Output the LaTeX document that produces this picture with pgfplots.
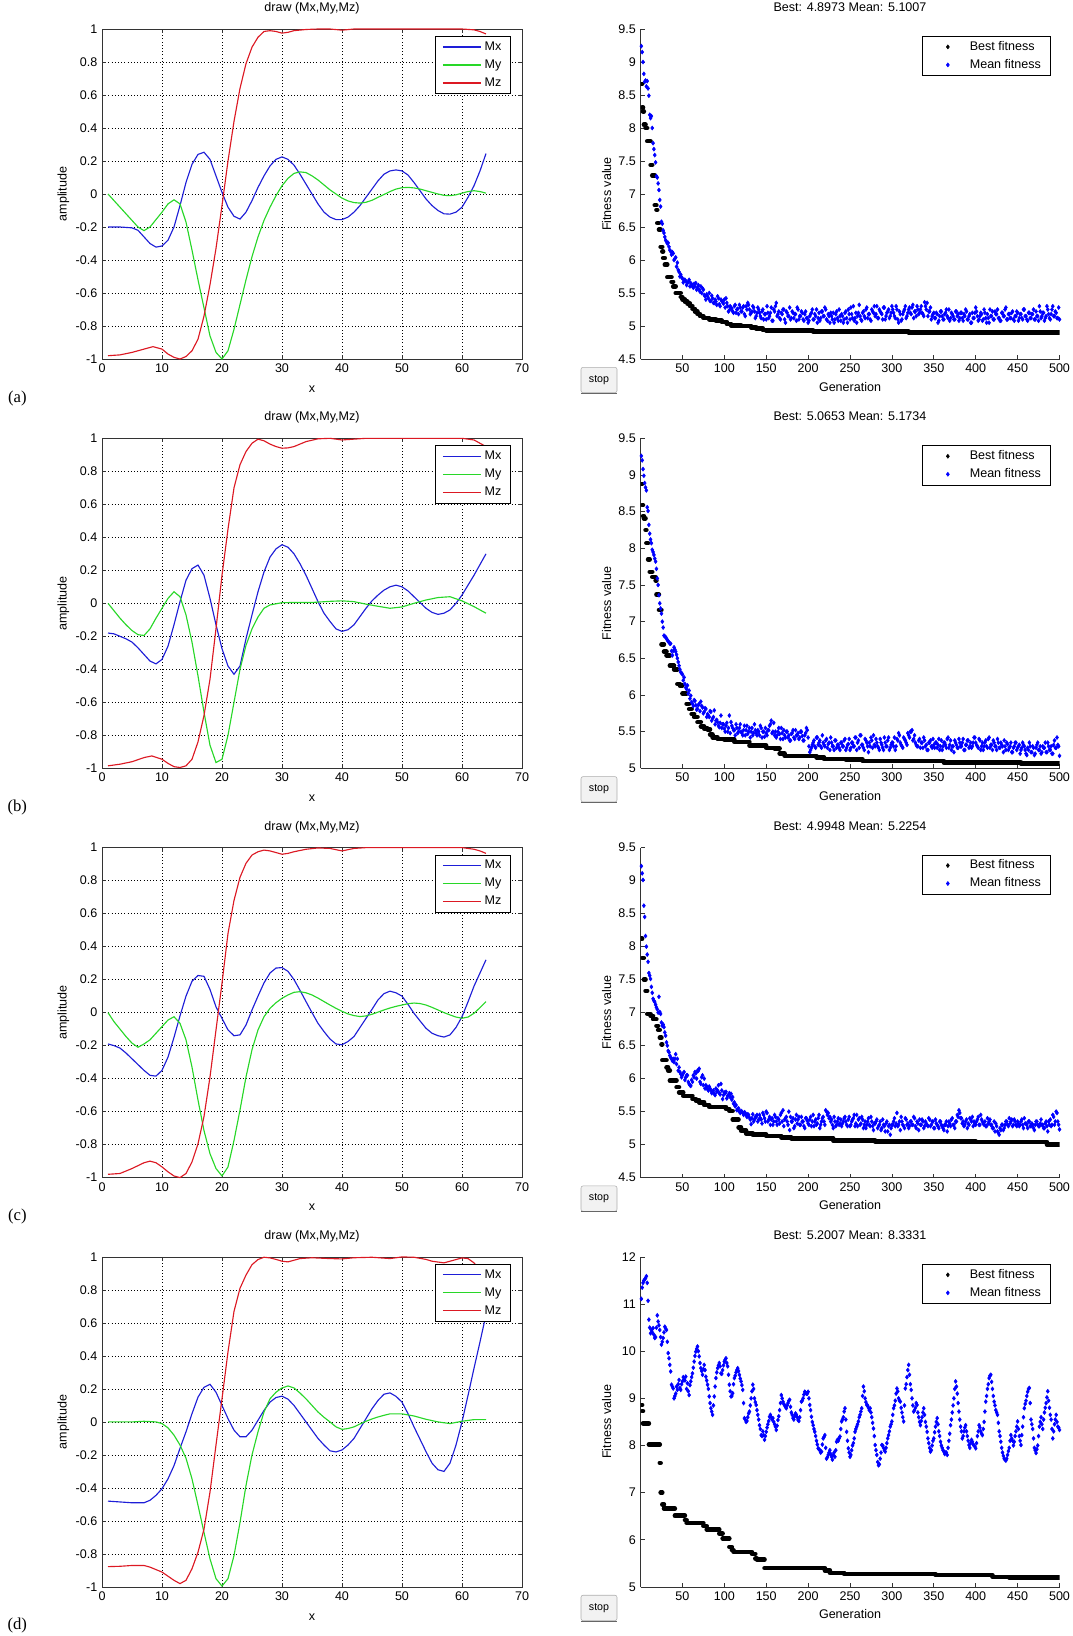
\documentclass[border=0pt]{standalone}
\usepackage{fontspec}
\setmainfont{Liberation Sans}
\newfontfamily\timesf{Liberation Serif}
\usepackage{pgfplots}
\pgfplotsset{compat=1.18}
\definecolor{mx}{RGB}{30,30,215}
\definecolor{my}{RGB}{40,215,40}
\definecolor{mz}{RGB}{220,25,35}
\definecolor{mb}{RGB}{0,0,255}
\pgfplotsset{
  mbase/.style={scale only axis,
    every tick label/.append style={font=\fontsize{9.4}{11}\selectfont},
    label style={font=\fontsize{9.4}{11}\selectfont},
    title style={font=\fontsize{9.4}{11}\selectfont, at={(0.5,1)}, anchor=base, yshift=7pt},
    /pgf/number format/assume math mode=true,
    axis line style={line width=0.6pt, black!80},
    tick style={line width=0.5pt, black!80},
    tick align=inside, major tick length=3pt,
    legend style={font=\fontsize{9.4}{11}\selectfont, draw=black,
      inner xsep=5pt, inner ysep=3pt,
      nodes={inner xsep=2pt, inner ysep=0pt, text height=7.5pt, text depth=2.5pt},
      row sep=3.5pt, at={(1,1)}, anchor=north east},
    legend cell align=left,
  },
  lax/.style={mbase, width=315pt, height=247.5pt,
    xmin=0, xmax=70, ymin=-1, ymax=1,
    xtick={0,10,...,70}, ytick={-1,-0.8,-0.6,-0.4,-0.2,0,0.2,0.4,0.6,0.8,1},
    grid=major, major grid style={dotted, black, line width=0.5pt},
    clip=false, title={draw (Mx,My,Mz)}, xlabel={x}, ylabel={amplitude},
    xlabel style={at={(0.5,0)}, anchor=base, yshift=-25pt},
    ylabel style={at={(-0.092,0.5)}, anchor=center},
    legend style={xshift=-8.25pt, yshift=-5.25pt}},
  rax/.style={mbase, width=314.25pt, height=247.5pt,
    xmin=0, xmax=500, xtick={50,100,...,500},
    axis x line*=bottom, axis y line*=left,
    xlabel={Generation}, ylabel={Fitness value},
    xlabel style={at={(0.5,0)}, anchor=base, yshift=-24pt},
    ylabel style={at={(-0.081,0.5)}, anchor=center},
    legend style={xshift=-6.75pt, yshift=-5.25pt}},
  lmx/.style={color=mx, line width=0.85pt, forget plot},
  lmy/.style={color=my, line width=0.85pt, forget plot},
  lmz/.style={color=mz, line width=0.85pt, forget plot},
  bestst/.style={jump mark left, black, line width=3.4pt, line cap=round, mark=none, forget plot},
  meanst/.style={only marks, mark=diamond*, mark size=1.5pt, color=mb, forget plot},
}
\newcommand{\leglines}{%
  \addlegendimage{legend image code/.code={\draw[mx, line width=0.9pt] (0pt,0pt) -- (29pt,0pt);}}
  \addlegendentry{Mx}
  \addlegendimage{legend image code/.code={\draw[my, line width=0.9pt] (0pt,0pt) -- (29pt,0pt);}}
  \addlegendentry{My}
  \addlegendimage{legend image code/.code={\draw[mz, line width=0.9pt] (0pt,0pt) -- (29pt,0pt);}}
  \addlegendentry{Mz}}
\newcommand{\legmarks}{%
  \addlegendimage{legend image code/.code={\path[draw=none] (0pt,0pt) -- (29pt,0pt); \path[draw=black, fill=black] plot[mark=diamond*, mark size=1.5pt, only marks] coordinates {(14.5pt,0pt)};}}
  \addlegendentry{Best fitness}
  \addlegendimage{legend image code/.code={\path[draw=none] (0pt,0pt) -- (29pt,0pt); \path[draw=mb, fill=mb] plot[mark=diamond*, mark size=1.5pt, only marks] coordinates {(14.5pt,0pt)};}}
  \addlegendentry{Mean fitness}}
\newcommand{\stopbtn}[1]{%
  \node[draw=gray!65, fill=gray!10, rounded corners=1.5pt, minimum width=27pt, minimum height=19pt,
    inner sep=0pt, font=\fontsize{8}{9}\selectfont] at (449.25pt,-#1) {stop};
  \draw[gray!80!black, line width=0.8pt] (436pt,-#1+ -10pt) -- (462.5pt,-#1+ -10pt);}
\begin{document}
\begin{tikzpicture}
\useasboundingbox (0,0) rectangle (804.75pt,-1227pt);
% ================= ROW A =================
\begin{axis}[lax, at={(76.5pt,-21.75pt)}, anchor=north west]
\addplot[lmx] coordinates {(1,-0.20)(3,-0.20)(5,-0.205)(6,-0.22)(7,-0.26)(8,-0.30)(9,-0.322)(10,-0.315)(11,-0.28)(12,-0.20)(13,-0.07)(14,0.07)(15,0.18)(16,0.24)(17,0.253)(18,0.21)(19,0.11)(20,0.01)(21,-0.08)(22,-0.135)(23,-0.152)(24,-0.11)(25,-0.04)(26,0.04)(27,0.11)(28,0.17)(29,0.21)(30,0.225)(31,0.21)(32,0.175)(33,0.12)(34,0.06)(35,0.0)(36,-0.06)(37,-0.11)(38,-0.14)(39,-0.155)(40,-0.155)(41,-0.14)(42,-0.11)(43,-0.07)(44,-0.02)(45,0.03)(46,0.08)(47,0.12)(48,0.14)(49,0.146)(50,0.14)(51,0.115)(52,0.07)(53,0.02)(54,-0.03)(55,-0.07)(56,-0.10)(57,-0.12)(58,-0.122)(59,-0.11)(60,-0.08)(61,-0.02)(62,0.05)(63,0.14)(64,0.245)};
\addplot[lmy] coordinates {(1,0)(2,-0.04)(3,-0.08)(4,-0.12)(5,-0.16)(6,-0.20)(7,-0.222)(8,-0.20)(9,-0.155)(10,-0.11)(11,-0.06)(12,-0.035)(13,-0.06)(14,-0.17)(15,-0.34)(16,-0.52)(17,-0.69)(18,-0.86)(19,-0.96)(20,-1.0)(21,-0.95)(22,-0.82)(23,-0.67)(24,-0.52)(25,-0.38)(26,-0.26)(27,-0.16)(28,-0.08)(29,-0.01)(30,0.05)(31,0.095)(32,0.125)(33,0.134)(34,0.13)(35,0.11)(36,0.085)(37,0.055)(38,0.025)(39,0.0)(40,-0.025)(41,-0.042)(42,-0.052)(43,-0.055)(44,-0.05)(45,-0.038)(46,-0.02)(47,-0.003)(48,0.015)(49,0.03)(50,0.038)(51,0.04)(52,0.037)(53,0.03)(54,0.02)(55,0.01)(56,0.0)(57,-0.008)(58,-0.01)(59,-0.005)(60,0.005)(61,0.015)(62,0.02)(63,0.015)(64,0.005)};
\addplot[lmz] coordinates {(1,-0.98)(3,-0.975)(5,-0.96)(7,-0.94)(8.5,-0.925)(10,-0.94)(11,-0.97)(12,-0.99)(13,-1.0)(14,-0.985)(15,-0.95)(16,-0.88)(17,-0.74)(18,-0.55)(19,-0.33)(20,-0.07)(21,0.2)(22,0.44)(23,0.64)(24,0.79)(25,0.89)(26,0.95)(27,0.985)(28,0.99)(29,0.985)(30,0.975)(31,0.98)(32,0.99)(34,0.997)(36,1.0)(38,1.0)(40,0.993)(42,1.0)(45,1.0)(50,1.0)(55,1.0)(60,1.0)(62,0.995)(63,0.985)(64,0.97)};
\leglines
\end{axis}
\begin{axis}[rax, at={(480.38pt,-21.75pt)}, anchor=north west, ymin=4.5, ymax=9.5,
  ytick={4.5,5,5.5,6,6.5,7,7.5,8,8.5,9,9.5}, title={Best: 4.8973 Mean: 5.1007}]
\legmarks
\addplot[bestst] coordinates {(1,8.67)(2,8.31)(3,8.25)(4,8.05)(6,8.0)(8,7.8)(12,7.44)(14,7.28)(17,6.83)(19,6.76)(20,6.56)(22,6.46)(24,6.2)(26,6.13)(27,6.03)(29,5.93)(32,5.74)(37,5.67)(39,5.6)(42,5.5)(48,5.44)(50,5.4)(53,5.37)(56,5.34)(59,5.3)(62,5.26)(65,5.22)(68,5.18)(71,5.15)(75,5.12)(82,5.1)(90,5.08)(97,5.06)(103,5.03)(108,5.01)(120,5.0)(132,4.98)(138,4.96)(146,4.94)(150,4.93)(206,4.915)(320,4.9)(500,4.9)};
\addplot[meanst] coordinates {(1,9.24)(2,9.15)(3,9.0)(4,8.82)(5,8.7)(6,8.72)(7,8.63)(8,8.71)(9,8.6)(10,8.49)(11,8.2)(12,8.15)(13,8.18)(14,8.0)(15,7.77)(16,7.68)(17,7.59)(18,7.48)(19,7.27)(20,7.25)(21,7.16)(22,7.06)(23,6.91)(24,6.81)(25,6.58)(26,6.55)(27,6.45)(28,6.41)(29,6.35)(30,6.3)(31,6.28)(32,6.25)(33,6.26)(34,6.2)(35,6.15)(36,6.13)(37,6.08)(38,6.12)(39,6.1)(40,6.0)};
\addplot[meanst] table[row sep=\\, header=false, x expr=42+2*\coordindex, y index=0] {6.04\\5.96\\5.82\\5.78\\5.72\\5.7\\5.68\\5.65\\5.7\\5.65\\
5.6\\5.64\\5.65\\5.58\\5.55\\5.6\\5.57\\5.47\\5.4\\5.45\\5.5\\5.38\\5.42\\5.35\\5.37\\5.45\\5.33\\5.4\\5.36\\5.4\\
5.42\\5.3\\5.24\\5.28\\5.22\\5.3\\5.2\\5.26\\5.32\\5.22\\5.28\\5.18\\5.3\\5.35\\5.25\\5.2\\5.3\\5.22\\5.15\\5.28\\5.2\\5.12\\5.25\\5.18\\5.1\\
5.2\\5.15\\5.28\\5.08\\5.22\\5.35\\5.18\\5.12\\5.2\\5.25\\5.1\\5.22\\5.15\\5.28\\5.12\\5.2\\5.18\\5.08\\5.25\\5.15\\5.22\\5.1\\5.18\\5.12\\5.05\\
5.15\\5.2\\5.1\\5.18\\5.25\\5.12\\5.08\\5.22\\5.15\\5.28\\5.1\\5.18\\5.05\\5.15\\5.2\\5.1\\5.22\\5.08\\5.15\\5.18\\5.05\\5.2\\5.12\\5.25\\5.1\\
5.18\\5.3\\5.12\\5.05\\5.2\\5.15\\5.08\\5.22\\5.12\\5.28\\5.18\\5.1\\5.25\\5.2\\5.15\\5.3\\5.12\\5.22\\5.18\\5.28\\5.1\\5.2\\5.25\\5.15\\5.3\\
5.2\\5.12\\5.25\\5.05\\5.18\\5.1\\5.22\\5.3\\5.15\\5.25\\5.2\\5.28\\5.12\\5.22\\5.3\\5.18\\5.25\\5.2\\5.15\\5.3\\5.35\\5.22\\5.28\\5.15\\5.2\\
5.12\\5.18\\5.08\\5.22\\5.15\\5.1\\5.2\\5.15\\5.25\\5.12\\5.18\\5.1\\5.22\\5.15\\5.08\\5.2\\5.12\\5.18\\5.25\\5.1\\5.15\\5.05\\5.2\\5.12\\5.28\\
5.15\\5.1\\5.2\\5.08\\5.25\\5.12\\5.18\\5.05\\5.15\\5.22\\5.1\\5.18\\5.25\\5.12\\5.08\\5.2\\5.15\\5.28\\5.1\\5.18\\5.12\\5.22\\5.08\\5.15\\5.2\\
5.12\\5.18\\5.1\\5.25\\5.15\\5.08\\5.2\\5.12\\5.18\\5.1\\5.22\\5.15\\5.3\\5.12\\5.2\\5.08\\5.15\\5.25\\5.12\\5.18\\5.3\\5.15\\5.2\\5.12\\5.1\\};
\addplot[meanst] table[row sep=\\, header=false, x expr=41+2*\coordindex, y index=0] {6.02\\5.9\\5.85\\5.75\\5.74\\5.66\\5.7\\5.62\\5.67\\5.6\\
5.63\\5.58\\5.6\\5.55\\5.62\\5.52\\5.5\\5.55\\5.45\\5.48\\
5.42\\5.38\\5.46\\5.35\\5.4\\5.32\\5.42\\5.3\\5.38\\5.34\\
5.28\\5.35\\5.22\\5.3\\5.26\\5.2\\5.32\\5.25\\5.18\\5.28\\
5.22\\5.3\\5.15\\5.25\\5.32\\5.18\\5.22\\5.28\\5.12\\5.2\\
5.25\\5.15\\5.22\\5.1\\5.18\\5.3\\5.12\\5.2\\5.08\\5.25\\
5.3\\5.15\\5.22\\5.1\\5.18\\5.25\\5.05\\5.2\\5.15\\5.1\\
5.22\\5.12\\5.18\\5.28\\5.1\\5.15\\5.2\\5.08\\5.22\\5.12\\
5.08\\5.18\\5.25\\5.1\\5.15\\5.05\\5.2\\5.12\\5.22\\5.15\\
5.25\\5.08\\5.15\\5.2\\5.1\\5.05\\5.18\\5.12\\5.25\\5.08\\
5.15\\5.1\\5.22\\5.05\\5.18\\5.28\\5.12\\5.08\\5.2\\5.15\\
5.32\\5.1\\5.2\\5.15\\5.25\\5.12\\5.18\\5.08\\5.22\\5.3\\
5.18\\5.12\\5.25\\5.2\\5.1\\5.28\\5.15\\5.22\\5.12\\5.2\\
5.25\\5.15\\5.3\\5.1\\5.22\\5.08\\5.18\\5.25\\5.12\\5.2\\
5.28\\5.18\\5.32\\5.22\\5.15\\5.25\\5.2\\5.3\\5.18\\5.36\\
5.25\\5.15\\5.22\\5.1\\5.18\\5.12\\5.2\\5.05\\5.15\\5.22\\
5.1\\5.18\\5.25\\5.12\\5.08\\5.2\\5.15\\5.1\\5.22\\5.18\\
5.12\\5.2\\5.08\\5.15\\5.22\\5.1\\5.18\\5.05\\5.12\\5.2\\
5.22\\5.08\\5.15\\5.18\\5.1\\5.2\\5.05\\5.12\\5.25\\5.15\\
5.1\\5.22\\5.18\\5.12\\5.08\\5.2\\5.15\\5.25\\5.1\\5.18\\
5.12\\5.2\\5.1\\5.15\\5.22\\5.08\\5.18\\5.12\\5.25\\5.15\\
5.1\\5.2\\5.12\\5.18\\5.25\\5.1\\5.15\\5.08\\5.22\\5.15\\
5.2\\5.12\\5.3\\5.18\\5.1\\5.25\\5.15\\5.22\\5.12\\5.28\\};
\end{axis}
% ================= ROW B =================
\begin{axis}[lax, at={(76.5pt,-328.73pt)}, anchor=north west]
\addplot[lmx] coordinates {(1,-0.18)(2,-0.185)(3,-0.20)(4,-0.215)(5,-0.235)(6,-0.27)(7,-0.31)(8,-0.35)(9,-0.367)(10,-0.34)(11,-0.26)(12,-0.13)(13,0.01)(14,0.14)(15,0.21)(16,0.232)(17,0.17)(18,0.03)(19,-0.13)(20,-0.275)(21,-0.38)(22,-0.43)(23,-0.38)(24,-0.215)(25,-0.07)(26,0.07)(27,0.19)(28,0.28)(29,0.33)(30,0.355)(31,0.34)(32,0.30)(33,0.24)(34,0.17)(35,0.09)(36,0.01)(37,-0.06)(38,-0.11)(39,-0.155)(40,-0.17)(41,-0.16)(42,-0.13)(43,-0.08)(44,-0.03)(45,0.015)(46,0.05)(47,0.08)(48,0.1)(49,0.11)(50,0.1)(51,0.075)(52,0.04)(53,0.005)(54,-0.03)(55,-0.055)(56,-0.067)(57,-0.06)(58,-0.04)(59,0.0)(60,0.05)(61,0.11)(62,0.17)(63,0.235)(64,0.30)};
\addplot[lmy] coordinates {(1,0)(2,-0.045)(3,-0.09)(4,-0.13)(5,-0.165)(6,-0.19)(7,-0.195)(8,-0.155)(9,-0.09)(10,-0.03)(11,0.03)(12,0.07)(13,0.04)(14,-0.07)(15,-0.235)(16,-0.44)(17,-0.66)(18,-0.86)(19,-0.965)(20,-0.945)(21,-0.80)(22,-0.60)(23,-0.40)(24,-0.255)(25,-0.155)(26,-0.083)(27,-0.03)(28,-0.01)(30,0.004)(32,0.005)(35,0.005)(38,0.012)(40,0.015)(42,0.01)(44,-0.005)(46,-0.018)(48,-0.03)(50,-0.022)(52,0.0)(54,0.02)(56,0.035)(58,0.04)(60,0.015)(62,-0.02)(64,-0.06)};
\addplot[lmz] coordinates {(1,-0.985)(3,-0.975)(5,-0.96)(7,-0.935)(8.3,-0.925)(10,-0.945)(11,-0.97)(12,-0.99)(13,-0.995)(14,-0.985)(15,-0.945)(16,-0.84)(17,-0.68)(18,-0.46)(19,-0.154)(20,0.17)(21,0.45)(22,0.70)(23,0.84)(24,0.92)(25,0.97)(26,0.995)(27,0.985)(28,0.965)(29,0.95)(30,0.94)(31,0.942)(32,0.95)(33,0.965)(34,0.98)(36,0.997)(38,1.0)(40,0.99)(42,0.995)(44,1.0)(50,1.0)(55,1.0)(60,1.0)(61,0.995)(62,0.99)(63,0.97)(64,0.95)};
\leglines
\end{axis}
\begin{axis}[rax, at={(480.38pt,-328.73pt)}, anchor=north west, ymin=5, ymax=9.5,
  ytick={5,5.5,6,6.5,7,7.5,8,8.5,9,9.5}, title={Best: 5.0653 Mean: 5.1734}]
\legmarks
\addplot[bestst] coordinates {(1,8.88)(2,8.59)(3,8.44)(4,8.41)(6,8.25)(7,8.07)(9,7.85)(11,7.68)(14,7.61)(18,7.56)(19,7.37)(22,7.16)(25,6.69)(28,6.59)(31,6.54)(35,6.4)(40,6.35)(44,6.15)(47,6.13)(50,6.02)(55,5.88)(58,5.81)(61,5.74)(64,5.7)(68,5.63)(72,5.57)(76,5.54)(80,5.53)(83,5.46)(86,5.42)(92,5.4)(100,5.39)(112,5.36)(130,5.31)(150,5.28)(160,5.27)(166,5.2)(172,5.17)(210,5.15)(219,5.13)(245,5.12)(265,5.1)(362,5.08)(454,5.065)(500,5.065)};
\addplot[meanst] coordinates {(1,9.26)(2,9.2)(3,9.08)(4,8.99)(5,8.89)(6,8.83)(7,8.79)(8,8.56)(9,8.51)(10,8.32)(11,8.2)(12,8.12)(13,8.07)(14,7.98)(15,7.95)(16,7.91)(17,7.86)(18,7.82)(19,7.72)(20,7.59)(21,7.5)(22,7.36)(23,7.25)(24,7.18)(25,7.11)(26,7.0)(27,6.92)(28,6.81)(29,6.8)(30,6.79)(31,6.77)(32,6.75)(33,6.73)(34,6.72)(35,6.7)(36,6.7)(37,6.6)(38,6.54)(39,6.6)(40,6.65)};
\addplot[meanst] table[row sep=\\, header=false, x expr=42+2*\coordindex, y index=0] {6.59\\6.5\\6.4\\6.31\\6.28\\6.24\\6.1\\6.13\\6.06\\5.99\\
5.88\\5.93\\5.86\\5.81\\5.88\\5.91\\5.83\\5.77\\5.81\\5.74\\5.7\\5.77\\5.68\\5.79\\5.65\\5.63\\5.56\\5.72\\5.6\\5.54\\
5.58\\5.5\\5.72\\5.63\\5.55\\5.52\\5.6\\5.48\\5.55\\5.5\\5.45\\5.58\\5.52\\5.47\\5.55\\5.5\\5.45\\5.6\\5.48\\5.52\\5.45\\5.55\\5.5\\5.43\\5.48\\
5.52\\5.58\\5.65\\5.5\\5.45\\5.42\\5.5\\5.47\\5.55\\5.4\\5.45\\5.5\\5.42\\5.38\\5.47\\5.52\\5.4\\5.45\\5.48\\5.42\\5.5\\5.38\\5.45\\5.55\\5.42\\
5.22\\5.28\\5.35\\5.3\\5.42\\5.32\\5.38\\5.28\\5.35\\5.3\\5.4\\5.33\\5.25\\5.35\\5.3\\5.38\\5.28\\5.32\\5.25\\5.35\\5.3\\5.4\\5.28\\5.33\\5.25\\
5.35\\5.3\\5.42\\5.25\\5.38\\5.45\\5.32\\5.28\\5.4\\5.35\\5.22\\5.3\\5.38\\5.45\\5.3\\5.35\\5.28\\5.4\\5.32\\5.25\\5.35\\5.3\\5.42\\5.28\\5.35\\
5.3\\5.25\\5.4\\5.48\\5.35\\5.3\\5.42\\5.38\\5.32\\5.45\\5.5\\5.52\\5.4\\5.35\\5.3\\5.38\\5.28\\5.35\\5.42\\5.3\\5.25\\5.35\\5.38\\5.28\\5.32\\
5.35\\5.28\\5.4\\5.3\\5.25\\5.35\\5.32\\5.4\\5.28\\5.38\\5.3\\5.22\\5.35\\5.28\\5.4\\5.3\\5.35\\5.25\\5.32\\5.38\\5.28\\5.35\\5.3\\5.42\\5.35\\
5.3\\5.4\\5.25\\5.35\\5.3\\5.38\\5.28\\5.42\\5.32\\5.25\\5.35\\5.3\\5.4\\5.28\\5.35\\5.3\\5.38\\5.25\\5.33\\5.28\\5.35\\5.22\\5.3\\5.35\\5.28\\
5.32\\5.25\\5.35\\5.3\\5.2\\5.28\\5.35\\5.22\\5.3\\5.18\\5.28\\5.35\\5.25\\5.2\\5.3\\5.28\\5.22\\5.35\\5.25\\5.3\\5.2\\5.38\\5.28\\5.32\\5.17\\};
\addplot[meanst] table[row sep=\\, header=false, x expr=41+2*\coordindex, y index=0] {6.62\\6.55\\6.45\\6.35\\6.3\\6.2\\6.15\\6.08\\6.02\\5.95\\
5.9\\5.85\\5.92\\5.8\\5.86\\5.78\\5.85\\5.75\\5.82\\5.7\\
5.72\\5.78\\5.65\\5.7\\5.6\\5.66\\5.58\\5.62\\5.55\\5.6\\
5.5\\5.62\\5.55\\5.48\\5.58\\5.52\\5.45\\5.55\\5.5\\5.6\\
5.48\\5.52\\5.45\\5.58\\5.5\\5.42\\5.55\\5.48\\5.52\\5.45\\
5.5\\5.58\\5.42\\5.5\\5.55\\5.45\\5.52\\5.6\\5.48\\5.62\\
5.5\\5.45\\5.55\\5.4\\5.48\\5.52\\5.42\\5.5\\5.45\\5.38\\
5.48\\5.42\\5.52\\5.45\\5.4\\5.5\\5.44\\5.38\\5.48\\5.52\\
5.3\\5.25\\5.32\\5.38\\5.28\\5.42\\5.35\\5.3\\5.45\\5.32\\
5.38\\5.28\\5.35\\5.42\\5.3\\5.25\\5.38\\5.32\\5.28\\5.35\\
5.3\\5.38\\5.25\\5.32\\5.4\\5.28\\5.35\\5.3\\5.42\\5.35\\
5.28\\5.45\\5.32\\5.25\\5.38\\5.3\\5.35\\5.42\\5.28\\5.32\\
5.4\\5.3\\5.25\\5.35\\5.28\\5.42\\5.3\\5.38\\5.25\\5.32\\
5.35\\5.42\\5.3\\5.38\\5.45\\5.32\\5.28\\5.4\\5.35\\5.48\\
5.42\\5.5\\5.38\\5.45\\5.32\\5.3\\5.4\\5.35\\5.28\\5.38\\
5.32\\5.25\\5.35\\5.3\\5.4\\5.28\\5.35\\5.32\\5.25\\5.38\\
5.3\\5.35\\5.28\\5.42\\5.32\\5.25\\5.3\\5.38\\5.32\\5.28\\
5.35\\5.3\\5.4\\5.25\\5.32\\5.38\\5.3\\5.28\\5.35\\5.42\\
5.32\\5.28\\5.38\\5.3\\5.25\\5.35\\5.3\\5.4\\5.28\\5.32\\
5.38\\5.3\\5.25\\5.35\\5.28\\5.32\\5.22\\5.3\\5.35\\5.25\\
5.3\\5.22\\5.28\\5.35\\5.25\\5.3\\5.2\\5.28\\5.32\\5.25\\
5.18\\5.25\\5.3\\5.22\\5.28\\5.2\\5.32\\5.25\\5.3\\5.22\\
5.28\\5.35\\5.22\\5.3\\5.25\\5.2\\5.32\\5.28\\5.42\\5.3\\};
\end{axis}
% ================= ROW C =================
\begin{axis}[lax, at={(76.5pt,-635.7pt)}, anchor=north west]
\addplot[lmx] coordinates {(1,-0.19)(2,-0.20)(3,-0.215)(4,-0.245)(5,-0.28)(6,-0.315)(7,-0.35)(8,-0.38)(9,-0.385)(10,-0.35)(11,-0.27)(12,-0.15)(13,-0.02)(14,0.10)(15,0.19)(16,0.225)(17,0.22)(18,0.14)(19,0.035)(20,-0.035)(21,-0.105)(22,-0.14)(23,-0.135)(24,-0.075)(25,0.016)(26,0.10)(27,0.18)(28,0.24)(29,0.27)(30,0.273)(31,0.25)(32,0.20)(33,0.135)(34,0.067)(35,0.0)(36,-0.065)(37,-0.115)(38,-0.16)(39,-0.19)(40,-0.195)(41,-0.175)(42,-0.145)(43,-0.09)(44,-0.035)(45,0.02)(46,0.077)(47,0.115)(48,0.13)(49,0.12)(50,0.10)(51,0.05)(52,-0.004)(53,-0.05)(54,-0.095)(55,-0.125)(56,-0.14)(57,-0.148)(58,-0.135)(59,-0.09)(60,-0.025)(61,0.065)(62,0.16)(63,0.24)(64,0.32)};
\addplot[lmy] coordinates {(1,0)(2,-0.055)(3,-0.10)(4,-0.145)(5,-0.185)(6,-0.21)(7,-0.19)(8,-0.165)(9,-0.125)(10,-0.085)(11,-0.045)(12,-0.025)(13,-0.065)(14,-0.165)(15,-0.33)(16,-0.53)(17,-0.715)(18,-0.855)(19,-0.945)(20,-0.99)(21,-0.935)(22,-0.775)(23,-0.59)(24,-0.39)(25,-0.225)(26,-0.105)(27,-0.025)(28,0.026)(29,0.06)(30,0.087)(31,0.107)(32,0.123)(33,0.127)(34,0.12)(35,0.107)(36,0.088)(37,0.067)(38,0.046)(39,0.026)(40,0.008)(41,-0.008)(42,-0.018)(43,-0.024)(44,-0.02)(45,-0.01)(46,0.003)(47,0.016)(48,0.028)(49,0.038)(50,0.046)(51,0.054)(52,0.058)(53,0.055)(54,0.046)(55,0.032)(56,0.016)(57,0.0)(58,-0.014)(59,-0.027)(60,-0.034)(61,-0.027)(62,-0.004)(63,0.03)(64,0.067)};
\addplot[lmz] coordinates {(1,-0.98)(3,-0.975)(5,-0.945)(7,-0.91)(8,-0.9)(9,-0.91)(10,-0.935)(11,-0.965)(12,-0.99)(13,-1.0)(14,-0.975)(15,-0.905)(16,-0.795)(17,-0.63)(18,-0.39)(19,-0.105)(20,0.178)(21,0.48)(22,0.68)(23,0.82)(24,0.905)(25,0.955)(26,0.975)(27,0.985)(28,0.98)(29,0.97)(30,0.96)(31,0.965)(32,0.975)(34,0.99)(36,0.998)(38,0.995)(40,0.98)(42,0.995)(44,1.0)(50,1.0)(55,1.0)(60,1.0)(62,0.99)(63,0.98)(64,0.965)};
\leglines
\end{axis}
\begin{axis}[rax, at={(480.38pt,-635.7pt)}, anchor=north west, ymin=4.5, ymax=9.5,
  ytick={4.5,5,5.5,6,6.5,7,7.5,8,8.5,9,9.5}, title={Best: 4.9948 Mean: 5.2254}]
\legmarks
\addplot[bestst] coordinates {(1,8.12)(2,7.83)(4,7.5)(6,7.33)(8,6.98)(12,6.95)(15,6.9)(19,6.8)(21,6.74)(23,6.62)(25,6.52)(26,6.28)(31,6.17)(33,6.12)(35,5.97)(43,5.87)(46,5.79)(51,5.74)(62,5.69)(66,5.67)(70,5.64)(76,5.6)(82,5.57)(102,5.54)(106,5.51)(110,5.38)(117,5.26)(120,5.21)(126,5.17)(134,5.15)(150,5.13)(168,5.11)(180,5.095)(230,5.06)(280,5.05)(400,5.04)(485,5.0)(500,4.995)};
\addplot[meanst] coordinates {(1,9.22)(2,9.11)(3,9.01)(4,8.62)(5,8.45)(6,8.16)(7,8.0)(8,7.88)(9,7.77)(10,7.6)(11,7.56)(12,7.51)(13,7.39)(14,7.3)(15,7.21)(16,7.18)(17,7.16)(18,7.12)(19,7.08)(20,7.05)(21,7.0)(22,7.24)(23,7.01)(24,6.98)(25,6.85)(26,6.8)(27,6.82)(28,6.78)(29,6.7)(30,6.65)(31,6.55)(32,6.5)(33,6.42)(34,6.4)(35,6.35)(36,6.32)(37,6.3)(38,6.27)(39,6.3)(40,6.25)};
\addplot[meanst] table[row sep=\\, header=false, x expr=42+2*\coordindex, y index=0] {6.37\\6.3\\6.17\\6.07\\6.05\\6.1\\6.02\\6.05\\5.92\\5.89\\
5.95\\6.02\\6.08\\6.12\\6.15\\5.92\\6.05\\6.0\\5.9\\5.84\\5.88\\5.82\\5.8\\5.77\\5.85\\5.82\\5.78\\5.92\\5.69\\5.79\\
5.8\\5.74\\5.78\\5.77\\5.72\\5.64\\5.6\\5.54\\5.5\\5.51\\5.48\\5.49\\5.45\\5.46\\5.41\\5.31\\5.46\\5.38\\5.42\\5.35\\5.45\\5.38\\5.48\\5.4\\5.5\\
5.35\\5.42\\5.38\\5.3\\5.45\\5.35\\5.4\\5.32\\5.48\\5.52\\5.38\\5.42\\5.3\\5.22\\5.35\\5.4\\5.28\\5.45\\5.38\\5.3\\5.42\\5.35\\5.25\\5.4\\5.32\\
5.38\\5.28\\5.45\\5.35\\5.3\\5.4\\5.25\\5.35\\5.42\\5.3\\5.5\\5.48\\5.42\\5.38\\5.25\\5.35\\5.3\\5.4\\5.32\\5.28\\5.35\\5.42\\5.3\\5.38\\5.28\\
5.35\\5.4\\5.28\\5.45\\5.38\\5.3\\5.42\\5.25\\5.35\\5.3\\5.4\\5.28\\5.35\\5.22\\5.32\\5.38\\5.28\\5.35\\5.25\\5.3\\5.2\\5.35\\5.28\\5.15\\5.3\\
5.35\\5.28\\5.48\\5.3\\5.22\\5.35\\5.28\\5.4\\5.3\\5.25\\5.35\\5.3\\5.42\\5.28\\5.35\\5.22\\5.3\\5.38\\5.25\\5.35\\5.3\\5.4\\5.28\\5.35\\5.25\\
5.38\\5.3\\5.25\\5.35\\5.28\\5.22\\5.3\\5.2\\5.35\\5.28\\5.4\\5.3\\5.35\\5.45\\5.52\\5.4\\5.32\\5.28\\5.35\\5.25\\5.3\\5.38\\5.42\\5.35\\5.3\\
5.38\\5.3\\5.45\\5.35\\5.3\\5.28\\5.4\\5.35\\5.3\\5.25\\5.35\\5.32\\5.2\\5.15\\5.22\\5.3\\5.25\\5.35\\5.3\\5.4\\5.35\\5.28\\5.38\\5.3\\5.35\\
5.28\\5.35\\5.3\\5.4\\5.32\\5.25\\5.35\\5.28\\5.3\\5.22\\5.35\\5.3\\5.28\\5.38\\5.3\\5.25\\5.35\\5.2\\5.3\\5.28\\5.45\\5.3\\5.5\\5.35\\5.23\\};
\addplot[meanst] table[row sep=\\, header=false, x expr=41+2*\coordindex, y index=0] {6.3\\6.22\\6.12\\6.1\\6.02\\6.08\\5.98\\6.05\\5.95\\5.9\\
5.98\\6.05\\6.1\\6.0\\6.12\\5.95\\6.02\\5.9\\5.85\\5.88\\
5.82\\5.85\\5.78\\5.82\\5.75\\5.8\\5.9\\5.76\\5.82\\5.75\\
5.78\\5.7\\5.75\\5.72\\5.68\\5.62\\5.58\\5.52\\5.55\\5.48\\
5.5\\5.45\\5.48\\5.42\\5.45\\5.38\\5.4\\5.35\\5.42\\5.45\\
5.38\\5.4\\5.32\\5.45\\5.35\\5.48\\5.38\\5.3\\5.4\\5.35\\
5.42\\5.3\\5.38\\5.45\\5.35\\5.28\\5.4\\5.35\\5.5\\5.42\\
5.35\\5.25\\5.38\\5.32\\5.42\\5.3\\5.35\\5.28\\5.4\\5.36\\
5.3\\5.42\\5.35\\5.28\\5.38\\5.32\\5.45\\5.3\\5.4\\5.35\\
5.52\\5.45\\5.4\\5.35\\5.3\\5.42\\5.28\\5.35\\5.3\\5.38\\
5.32\\5.4\\5.35\\5.28\\5.42\\5.3\\5.38\\5.45\\5.32\\5.28\\
5.4\\5.32\\5.38\\5.3\\5.25\\5.35\\5.3\\5.42\\5.28\\5.32\\
5.35\\5.25\\5.3\\5.22\\5.38\\5.28\\5.32\\5.2\\5.3\\5.25\\
5.3\\5.4\\5.32\\5.28\\5.35\\5.42\\5.3\\5.25\\5.38\\5.32\\
5.28\\5.35\\5.3\\5.4\\5.25\\5.32\\5.38\\5.3\\5.35\\5.28\\
5.32\\5.28\\5.38\\5.3\\5.35\\5.25\\5.32\\5.28\\5.35\\5.3\\
5.25\\5.3\\5.35\\5.28\\5.32\\5.38\\5.3\\5.25\\5.35\\5.42\\
5.48\\5.4\\5.35\\5.3\\5.38\\5.32\\5.4\\5.35\\5.28\\5.32\\
5.35\\5.42\\5.3\\5.38\\5.32\\5.35\\5.28\\5.32\\5.38\\5.3\\
5.25\\5.2\\5.28\\5.18\\5.25\\5.3\\5.22\\5.3\\5.35\\5.28\\
5.32\\5.38\\5.3\\5.35\\5.28\\5.32\\5.3\\5.38\\5.25\\5.32\\
5.3\\5.35\\5.28\\5.32\\5.25\\5.3\\5.35\\5.28\\5.32\\5.3\\
5.25\\5.32\\5.28\\5.35\\5.38\\5.3\\5.42\\5.35\\5.48\\5.3\\};
\end{axis}
% ================= ROW D =================
\begin{axis}[lax, at={(76.5pt,-942.68pt)}, anchor=north west]
\addplot[lmx] coordinates {(1,-0.48)(3,-0.485)(5,-0.49)(7,-0.49)(8,-0.475)(9,-0.445)(10,-0.405)(11,-0.345)(12,-0.265)(13,-0.16)(14,-0.06)(15,0.05)(16,0.15)(17,0.21)(18,0.228)(19,0.18)(20,0.10)(21,0.02)(22,-0.05)(23,-0.09)(24,-0.09)(25,-0.05)(26,0.01)(27,0.07)(28,0.12)(29,0.148)(30,0.156)(31,0.138)(32,0.10)(33,0.05)(34,0.0)(35,-0.05)(36,-0.10)(37,-0.14)(38,-0.175)(39,-0.182)(40,-0.17)(41,-0.14)(42,-0.10)(43,-0.04)(44,0.02)(45,0.08)(46,0.13)(47,0.168)(48,0.176)(49,0.155)(50,0.12)(51,0.05)(52,-0.03)(53,-0.105)(54,-0.18)(55,-0.25)(56,-0.29)(57,-0.30)(58,-0.25)(59,-0.14)(60,0.0)(61,0.16)(62,0.325)(63,0.485)(64,0.65)};
\addplot[lmy] coordinates {(1,0)(3,0)(5,0.0)(7,0.004)(9,0.0)(10,-0.01)(11,-0.036)(12,-0.08)(13,-0.14)(14,-0.22)(15,-0.345)(16,-0.505)(17,-0.67)(18,-0.83)(19,-0.95)(20,-0.995)(21,-0.95)(22,-0.81)(23,-0.61)(24,-0.385)(25,-0.2)(26,-0.06)(27,0.06)(28,0.14)(29,0.18)(30,0.206)(31,0.218)(32,0.206)(33,0.175)(34,0.14)(35,0.10)(36,0.06)(37,0.028)(38,0.0)(39,-0.03)(40,-0.045)(41,-0.04)(42,-0.03)(43,-0.012)(44,0.004)(45,0.018)(46,0.03)(47,0.04)(48,0.049)(50,0.049)(52,0.036)(54,0.016)(56,0.0)(58,-0.01)(60,0.004)(62,0.014)(64,0.014)};
\addplot[lmz] coordinates {(1,-0.877)(3,-0.875)(5,-0.87)(7,-0.87)(8,-0.88)(9,-0.895)(10,-0.91)(11,-0.935)(12,-0.96)(13,-0.98)(14,-0.96)(15,-0.89)(16,-0.79)(17,-0.65)(18,-0.425)(19,-0.14)(20,0.14)(21,0.425)(22,0.67)(23,0.81)(24,0.89)(25,0.953)(26,0.984)(27,0.998)(28,0.994)(29,0.985)(30,0.974)(31,0.97)(32,0.98)(33,0.99)(35,0.995)(38,0.99)(40,0.988)(42,0.995)(45,0.998)(48,0.99)(50,1.0)(52,0.998)(54,0.985)(55,0.974)(57,0.964)(59,0.984)(60,0.994)(61,0.99)(62,0.964)(63,0.92)(64,0.88)};
\leglines
\end{axis}
\begin{axis}[rax, at={(480.38pt,-942.68pt)}, anchor=north west, ymin=5, ymax=12,
  ytick={5,6,7,8,9,10,11,12}, title={Best: 5.2007 Mean: 8.3331}]
\legmarks
\addplot[bestst] coordinates {(1,8.86)(2,8.73)(3,8.47)(10,8.02)(23,7.63)(24,7.0)(26,6.75)(28,6.66)(41,6.51)(53,6.42)(55,6.36)(75,6.29)(79,6.22)(94,6.13)(98,6.03)(106,5.85)(109,5.78)(111,5.74)(133,5.7)(137,5.6)(139,5.58)(148,5.4)(220,5.35)(226,5.3)(243,5.275)(352,5.25)(420,5.215)(440,5.2)(500,5.2)};
\addplot[meanst] coordinates {(1,11.11)(2,11.35)(3,11.45)(4,11.5)(5,11.52)(6,11.55)(7,11.59)(8,11.45)(9,11.07)(10,10.67)(11,10.5)(12,10.38)(13,10.45)(14,10.4)(15,10.49)(16,10.35)(17,10.28)(18,10.3)(19,10.5)(20,10.76)(21,10.63)(22,10.55)(23,10.45)(24,10.3)(25,10.14)(26,10.2)(27,10.28)(28,10.4)(29,10.52)(30,10.48)(31,10.45)(32,10.2)(33,9.96)(34,9.85)(35,9.71)(36,9.57)(37,9.29)(38,9.25)(39,9.21)(40,9.0)};
\addplot[meanst] table[row sep=\\, header=false, x expr=42+2*\coordindex, y index=0] {9.1\\9.18\\9.39\\9.18\\9.36\\9.4\\9.46\\9.32\\9.07\\9.36\\
9.53\\9.78\\9.99\\10.1\\9.89\\9.64\\9.5\\9.71\\9.46\\9.29\\9.04\\8.79\\8.65\\9.04\\9.43\\9.64\\9.75\\9.53\\9.6\\9.78\\
9.85\\9.68\\9.29\\9.04\\9.11\\9.43\\9.55\\9.64\\9.5\\9.36\\9.18\\8.58\\8.5\\8.6\\8.72\\9.0\\9.29\\9.0\\8.86\\8.65\\8.43\\8.22\\8.3\\8.12\\8.29\\
8.45\\8.61\\8.6\\8.58\\8.45\\8.33\\8.54\\8.75\\9.07\\8.93\\8.85\\8.79\\8.9\\8.97\\8.7\\8.58\\8.62\\8.65\\8.54\\8.6\\8.93\\9.0\\9.14\\9.1\\9.14\\
8.86\\8.61\\8.43\\8.29\\8.1\\7.94\\7.9\\7.87\\8.15\\8.22\\7.72\\7.8\\7.9\\7.76\\7.8\\7.76\\8.08\\8.1\\8.19\\8.51\\8.6\\8.79\\8.29\\7.94\\7.76\\
7.9\\8.05\\8.29\\8.4\\8.51\\8.65\\8.79\\9.25\\9.0\\8.86\\8.8\\8.79\\8.6\\8.36\\8.01\\7.8\\7.58\\7.72\\8.01\\7.95\\7.87\\8.05\\8.22\\8.4\\8.51\\
8.79\\8.95\\9.21\\9.0\\8.93\\8.7\\8.51\\9.21\\9.45\\9.71\\9.3\\9.0\\8.72\\8.8\\8.86\\8.6\\8.43\\8.6\\8.79\\8.5\\8.29\\8.05\\7.87\\8.0\\8.15\\
8.4\\8.58\\8.3\\8.08\\7.95\\7.87\\7.85\\7.8\\8.1\\8.43\\8.7\\9.0\\9.36\\9.1\\8.72\\8.4\\8.15\\8.3\\8.43\\8.2\\8.01\\8.05\\8.08\\8.0\\7.94\\
8.2\\8.43\\8.3\\8.22\\8.5\\8.93\\9.2\\9.43\\9.5\\9.2\\8.93\\8.75\\8.65\\8.3\\8.08\\7.85\\7.72\\7.68\\7.8\\7.95\\8.22\\8.1\\8.08\\8.3\\8.51\\
8.2\\8.01\\8.4\\8.79\\8.95\\9.14\\9.22\\8.55\\8.35\\7.95\\7.84\\8.0\\8.4\\8.6\\8.35\\8.7\\8.9\\9.15\\8.8\\8.55\\8.15\\8.45\\8.65\\8.4\\8.33\\};
\addplot[meanst] table[row sep=\\, header=false, x expr=41+2*\coordindex, y index=0] {9.05\\9.25\\9.3\\9.22\\9.3\\9.45\\9.38\\9.2\\9.15\\9.28\\
9.45\\9.65\\9.9\\10.05\\10.0\\9.75\\9.58\\9.62\\9.6\\9.38\\
9.2\\8.9\\8.72\\8.85\\9.25\\9.55\\9.7\\9.68\\9.52\\9.7\\
9.82\\9.75\\9.5\\9.15\\9.05\\9.3\\9.48\\9.6\\9.58\\9.42\\
9.28\\8.9\\8.55\\8.52\\8.68\\8.85\\9.15\\9.2\\8.92\\8.75\\
8.55\\8.35\\8.2\\8.22\\8.2\\8.38\\8.52\\8.65\\8.55\\8.5\\
8.4\\8.42\\8.62\\8.9\\9.0\\8.88\\8.82\\8.85\\8.95\\8.82\\
8.65\\8.55\\8.68\\8.6\\8.52\\8.75\\8.95\\9.08\\9.12\\9.1\\
9.0\\8.75\\8.5\\8.35\\8.2\\8.02\\7.92\\7.85\\8.02\\8.18\\
7.95\\7.75\\7.85\\7.82\\7.7\\7.85\\7.9\\8.12\\8.15\\8.35\\
8.55\\8.72\\8.55\\8.1\\7.85\\7.8\\8.0\\8.15\\8.35\\8.45\\
8.6\\8.72\\9.05\\9.15\\8.92\\8.85\\8.75\\8.7\\8.48\\8.2\\
7.9\\7.65\\7.6\\7.85\\8.0\\7.9\\7.95\\8.15\\8.3\\8.45\\
8.65\\8.85\\9.1\\9.15\\8.95\\8.8\\8.6\\8.85\\9.3\\9.6\\
9.5\\9.18\\8.85\\8.75\\8.9\\8.7\\8.5\\8.52\\8.7\\8.65\\
8.4\\8.15\\7.95\\7.9\\8.1\\8.28\\8.5\\8.45\\8.2\\8.0\\
7.9\\7.82\\7.85\\7.95\\8.25\\8.55\\8.85\\9.2\\9.25\\8.9\\
8.55\\8.3\\8.2\\8.38\\8.3\\8.1\\7.95\\8.12\\8.02\\7.98\\
8.05\\8.3\\8.38\\8.25\\8.35\\8.72\\9.05\\9.3\\9.48\\9.35\\
9.05\\8.85\\8.7\\8.48\\8.2\\7.95\\7.78\\7.7\\7.72\\7.88\\
8.1\\8.15\\8.0\\8.2\\8.4\\8.35\\8.1\\8.22\\8.6\\8.88\\
9.05\\9.2\\8.9\\8.45\\8.15\\7.9\\7.92\\8.2\\8.5\\8.45\\
8.55\\8.8\\9.02\\8.95\\8.65\\8.35\\8.3\\8.55\\8.5\\8.38\\};
\end{axis}
% ================= buttons and panel labels =================
\stopbtn{285pt}
\stopbtn{591.98pt}
\stopbtn{898.95pt}
\stopbtn{1205.93pt}
\node[font=\timesf\fontsize{12.5}{14}\selectfont] at (13pt,-298.5pt) {(a)};
\node[font=\timesf\fontsize{12.5}{14}\selectfont] at (13pt,-605.48pt) {(b)};
\node[font=\timesf\fontsize{12.5}{14}\selectfont] at (13pt,-912.45pt) {(c)};
\node[font=\timesf\fontsize{12.5}{14}\selectfont] at (13pt,-1219.43pt) {(d)};
\end{tikzpicture}
\end{document}
